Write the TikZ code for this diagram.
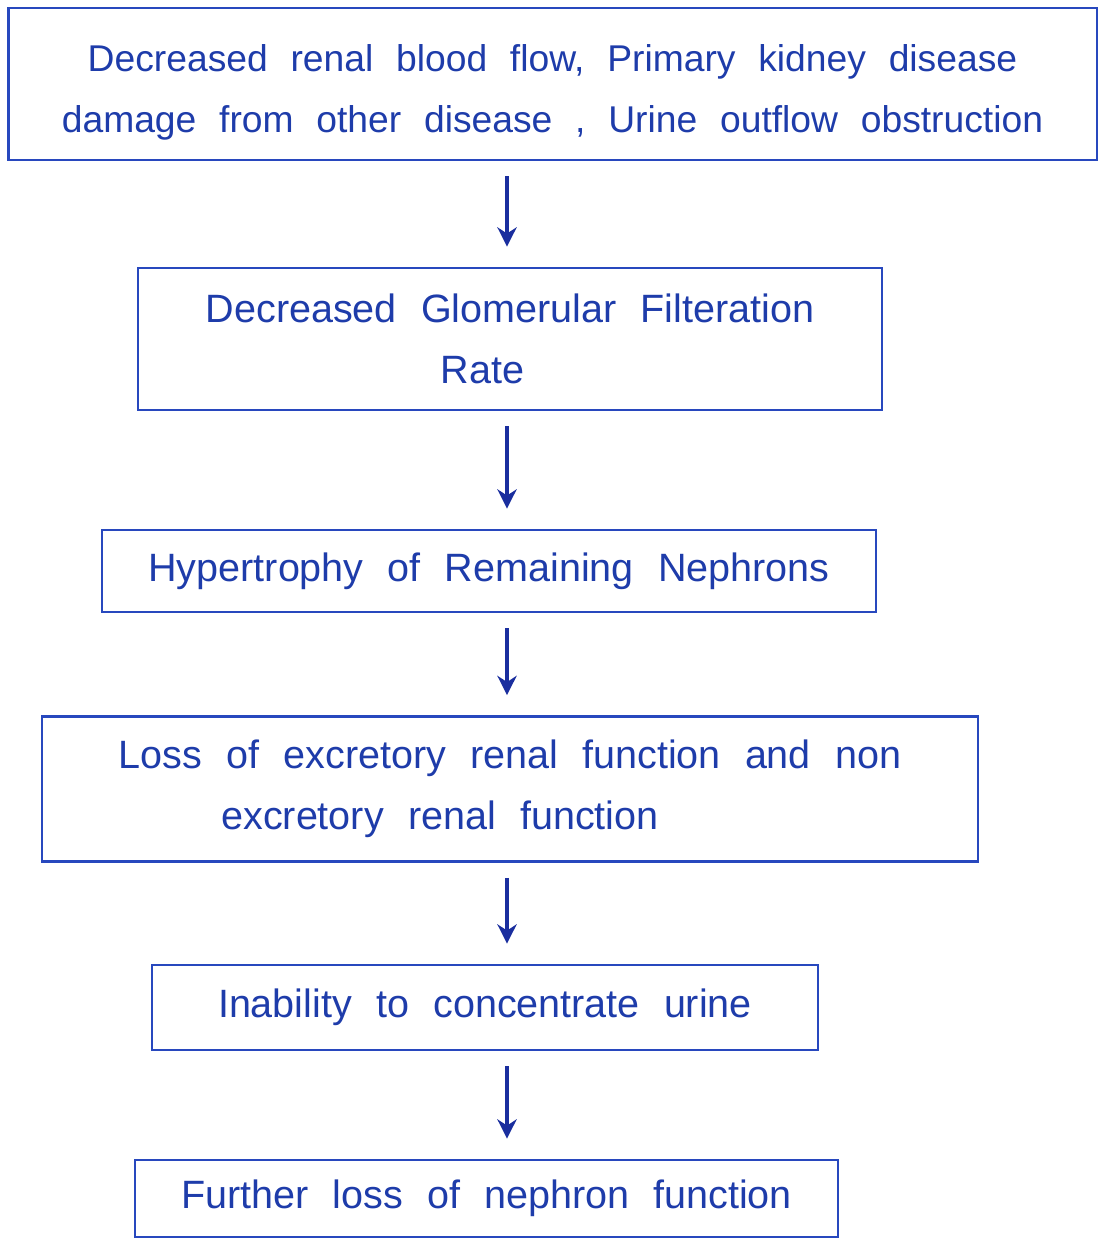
\documentclass[tikz,border=0pt]{standalone}
\usepackage{fontspec}
\setmainfont{Liberation Sans}[WordSpace=2.2]
\usetikzlibrary{arrows.meta, positioning, calc}
\definecolor{boxline}{HTML}{2848BE}
\definecolor{handtext}{HTML}{1E3CAA}
\definecolor{arrowink}{HTML}{1A2E9E}

\begin{document}
\begin{tikzpicture}[
    x=0.02cm, y=-0.02cm,
    stepbox/.style={draw=boxline, line width=1.6pt, fill=white,
                    inner sep=0pt, align=center, text=handtext,
                    font=\fontsize{22.5}{35}\selectfont},
    flowarr/.style={line width=1.8pt, arrowink,
                    shorten <=0.3cm, shorten >=0.4cm,
                    -{Stealth[length=11pt, width=11pt]}},
]

% canvas
\useasboundingbox (0,0) rectangle (1100,1239);

\coordinate (ax) at (507,0);

% ── boxes ──
\node[stepbox, minimum width=21.78cm, minimum height=3.04cm, text height=2.1cm,
      font=\fontsize{21.2}{35}\selectfont] (cause) at (552.5,84)
    {Decreased renal blood flow, Primary kidney disease\\
     damage from other disease , Urine outflow obstruction};

\node[stepbox, minimum width=14.88cm, minimum height=2.84cm] (gfr) at (510,339)
    {Decreased Glomerular Filteration\\\hspace*{-1.1cm}Rate};

\node[stepbox, minimum width=15.48cm, minimum height=1.64cm] (hyper) at (489,571)
    {Hypertrophy of Remaining Nephrons};

\node[stepbox, minimum width=18.72cm, minimum height=2.9cm, align=left] (loss) at (510,789)
    {Loss of excretory renal function and non\\
     \hspace*{2.05cm}excretory renal function};

\node[stepbox, minimum width=13.32cm, minimum height=1.7cm] (urine) at (485,1007.5)
    {Inability to concentrate urine};

\node[stepbox, minimum width=14.06cm, minimum height=1.54cm] (further) at (486.5,1198.5)
    {Further loss of nephron function};

% ── arrows ──
\draw[flowarr] (cause.south -| ax) -- (gfr.north -| ax);
\draw[flowarr] (gfr.south -| ax) -- (hyper.north -| ax);
\draw[flowarr] (hyper.south -| ax) -- (loss.north -| ax);
\draw[flowarr] (loss.south -| ax) -- (urine.north -| ax);
\draw[flowarr] (urine.south -| ax) -- (further.north -| ax);

\end{tikzpicture}
\end{document}
